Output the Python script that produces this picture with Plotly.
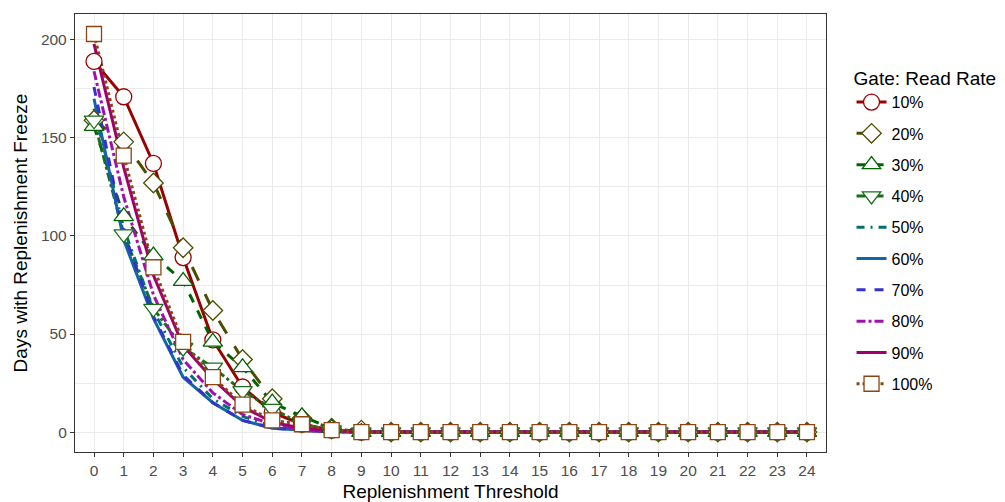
import plotly.graph_objects as go

# Replenishment threshold values on the x axis
thresholds = list(range(25))

def pad(vals):
    return vals + [0] * (25 - len(vals))

# Days with replenishment freeze for each gate read rate
rate_10 = pad([189, 171, 137, 89, 47, 23, 10, 4, 1, 0])
rate_20 = pad([159, 148, 127, 94, 62, 37, 17, 7, 2, 1])
rate_30 = pad([156, 110, 90, 77, 46, 33, 15, 8, 2, 0])
rate_40 = pad([159, 101, 63, 43, 33, 21, 12, 4, 1, 0])
rate_50 = pad([165, 104, 62, 33, 17, 8, 3, 1, 0])
rate_60 = pad([170, 98, 58, 28, 15, 6, 2, 1, 0])
rate_70 = pad([176, 102, 59, 29, 15, 6, 2, 1, 0])
rate_80 = pad([184, 120, 70, 37, 20, 9, 4, 1, 0])
rate_90 = pad([198, 135, 80, 44, 27, 13, 5, 2, 1, 0])
rate_100 = pad([203, 141, 84, 46, 28, 14, 6, 4, 1, 0])

series_names = ["10%", "20%", "30%", "40%", "50%", "60%", "70%", "80%", "90%", "100%"]
series_values = [rate_10, rate_20, rate_30, rate_40, rate_50,
                 rate_60, rate_70, rate_80, rate_90, rate_100]

colors = ["#990000", "#4d4d00", "#006400", "#1a6e1a", "#007070",
          "#1464a8", "#3333cc", "#a010b0", "#a0006e", "#8b4513"]
dashes = ["solid", "longdash", "dash", "dashdot", "8px,6px,2px,6px",
          "solid", "dash", "dashdot", "solid", "dot"]
symbols = ["circle", "diamond", "triangle-up", "triangle-down", None,
           None, None, None, None, "square"]
sizes = [16, 15, 17, 17, 0, 0, 0, 0, 0, 15]

fig = go.Figure()

# lines first, so all point markers sit above every line
for name, vals, col, dsh in zip(series_names, series_values, colors, dashes):
    fig.add_trace(go.Scatter(
        x=thresholds, y=vals, mode="lines", name=name,
        line=dict(color=col, width=3, dash=dsh),
        showlegend=False, legendgroup=name, hoverinfo="skip"))

# markers for the series that carry a shape
for name, vals, col, sym, sz in zip(series_names, series_values, colors, symbols, sizes):
    if sym is None:
        continue
    fig.add_trace(go.Scatter(
        x=thresholds, y=vals, mode="markers", name=name,
        marker=dict(symbol=sym, size=sz, color="white",
                    line=dict(color=col, width=1.3)),
        showlegend=False, legendgroup=name))

# legend entries combining line style and marker
for name, col, dsh, sym, sz in zip(series_names, colors, dashes, symbols, sizes):
    mode = "lines+markers" if sym else "lines"
    kw = dict(marker=dict(symbol=sym, size=sz, color="white",
                          line=dict(color=col, width=1.3))) if sym else {}
    fig.add_trace(go.Scatter(
        x=[None], y=[None], mode=mode, name=name, legendgroup=name,
        line=dict(color=col, width=3, dash=dsh), showlegend=True, **kw))

axis_common = dict(
    showline=True, mirror=True, linecolor="#333333", linewidth=1.3,
    ticks="outside", ticklen=4, tickcolor="#333333", tickwidth=1,
    tickfont=dict(size=15.5, color="#4d4d4d"),
    showgrid=True, gridcolor="#ebebeb", gridwidth=1, zeroline=False,
    automargin=False,
)

fig.update_xaxes(
    range=[-0.64, 24.64], tickmode="array", tickvals=thresholds,
    ticktext=[str(t) for t in thresholds],
    title=dict(text="Replenishment Threshold", font=dict(size=19, color="black"), standoff=6),
    **axis_common)
fig.update_yaxes(
    range=[-10.15, 213.2], tickmode="array", tickvals=[0, 50, 100, 150, 200],
    minor=dict(dtick=25, tick0=0, showgrid=True, gridcolor="#ebebeb", gridwidth=1),
    title=dict(text="Days with Replenishment Freeze", font=dict(size=19, color="black"), standoff=8),
    **axis_common)

fig.update_layout(
    width=1005, height=502,
    margin=dict(l=75, r=179, t=14, b=50, autoexpand=False),
    paper_bgcolor="white", plot_bgcolor="white",
    font=dict(family="Liberation Sans, Arial, sans-serif", color="black"),
    legend=dict(
        title=dict(text="Gate: Read Rate", font=dict(size=19)),
        font=dict(size=16), x=1.034, xanchor="left", y=0.894, yanchor="top",
        tracegroupgap=7.5, itemwidth=30, bgcolor="rgba(0,0,0,0)"),
)

fig.write_html("out.html")
